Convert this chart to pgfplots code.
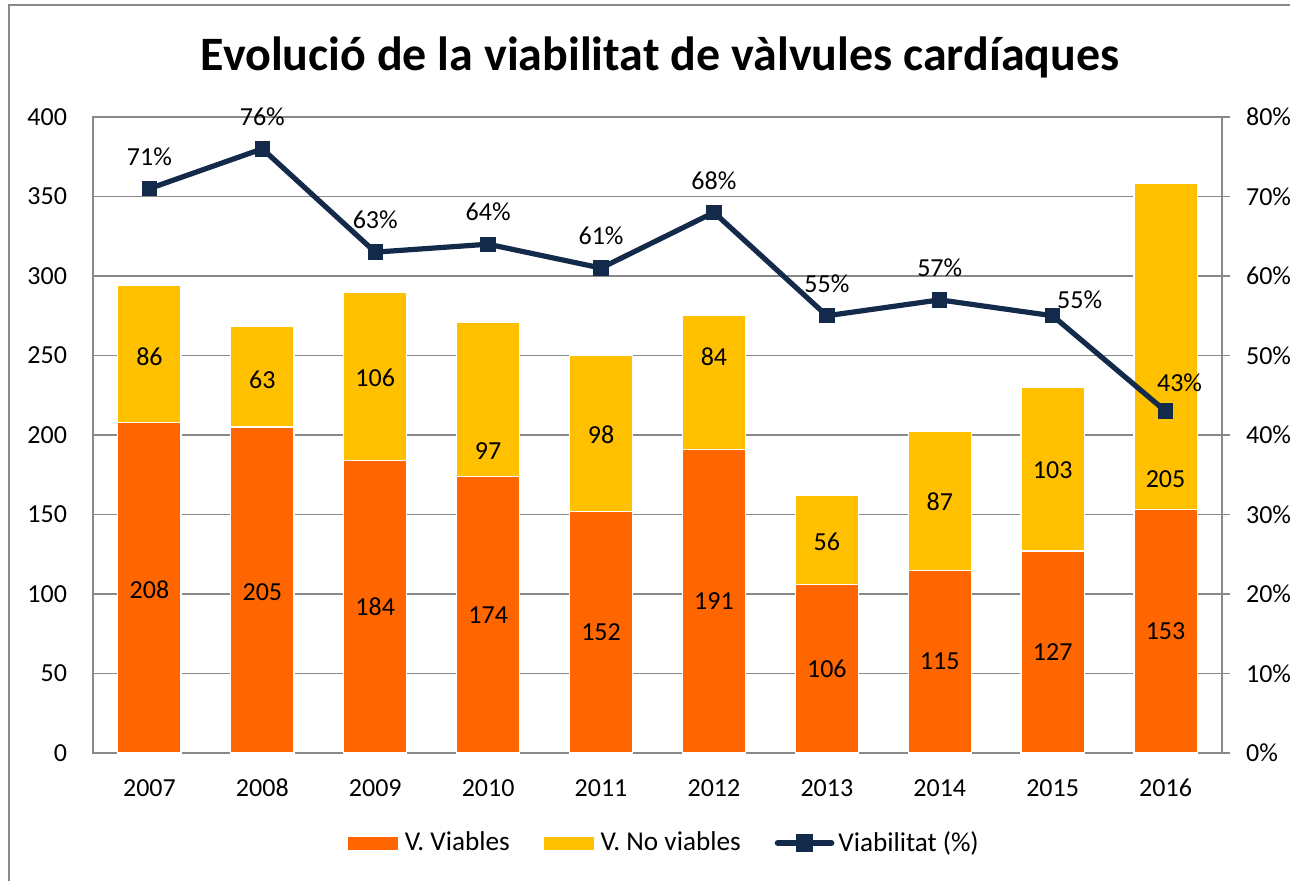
\documentclass[border=0pt]{standalone}
\usepackage{fontspec}
\setmainfont{Carlito}
\usepackage{pgfplots}
\usepackage{pgfplotstable}
\pgfplotsset{compat=1.18}

\definecolor{vorange}{HTML}{FF6600}
\definecolor{vyellow}{HTML}{FFC000}
\definecolor{vnavy}{HTML}{132A4B}
\definecolor{gridgray}{HTML}{898989}

% bars: viables / no viables per year (x = 0 -> 2007)
\pgfplotstableread{
x via novia
0 208 86
1 205 63
2 184 106
3 174 97
4 152 98
5 191 84
6 106 56
7 115 87
8 127 103
9 153 205
}\bardata

% value labels inside the bars (y = where the label sits)
\pgfplotstableread{
x y v
0 102.5 208
1 101 205
2 92 184
3 87 174
4 76 152
5 95.5 191
6 53 106
7 57.5 115
8 63.5 127
9 76.5 153
0 249 86
1 235 63
2 236 106
3 190 97
4 200 98
5 249 84
6 133 56
7 158 87
8 178 103
9 172 205
}\barlabels

% viability (%) with label offsets in pt
\pgfplotstableread{
x pct dx dy
0 71 0 16
1 76 0 16
2 63 0 16
3 64 0 16
4 61 0 16
5 68 0 16
6 55 0 16
7 57 0 16
8 55 13.5 8
9 43 7 14
}\pctdata

\newcommand\lblfont{\fontsize{13}{16}\selectfont}
\newcommand\legfont{\fontsize{13.6}{16}\selectfont}

\pgfplotsset{
  /pgf/number format/assume math mode=true,
  every tick label/.append style={font=\lblfont},
  chartbox/.style={
    at={(46.5pt,63.5pt)}, anchor=south west,
    scale only axis, width=564.5pt, height=318pt,
    xmin=-0.5, xmax=9.5,
  },
  navylegend/.style={legend image code/.code={
      \draw[vnavy, line width=2.8pt, line cap=round] (0pt,0pt) -- (27pt,0pt);
      \fill[vnavy] (10.5pt,-3pt) rectangle (16.5pt,3pt);
  }},
}

\begin{document}
\begin{tikzpicture}
\useasboundingbox (0,0) rectangle (645pt,440pt);

%% outer chart frame (cropped on the right and bottom)
\draw[gridgray, line width=1pt] (4.5pt,-20pt) -- (4.5pt,437.5pt) -- (700pt,437.5pt);

\node[font=\fontsize{24}{29}\selectfont\bfseries] at (330pt,411.5pt)
  {Evolució de la viabilitat de vàlvules cardíaques};

%% stacked bars, left axis
\begin{axis}[
  chartbox,
  ybar stacked, bar width=0.56,
  ymin=0, ymax=400,
  ytick={0,50,...,400},
  xtick={0,...,9},
  xticklabels={2007,2008,2009,2010,2011,2012,2013,2014,2015,2016},
  major tick length=0pt,
  ytick pos=left, xtick pos=bottom,
  ymajorgrids,
  grid style={gridgray, line width=0.75pt},
  axis line style={gridgray, line width=0.75pt},
  yticklabel style={xshift=-9.5pt},
  xticklabel style={yshift=-11pt, text height=1.5ex, text depth=0pt},
]
  \addplot[fill=vorange, draw=white, line width=0.6pt] table[x=x, y=via] {\bardata};
  \addplot[fill=vyellow, draw=white, line width=0.6pt] table[x=x, y=novia] {\bardata};
\end{axis}

%% numbers inside the bars
\begin{axis}[
  chartbox, hide axis,
  ymin=0, ymax=400,
]
  \addplot[draw=none, mark=none, point meta=explicit,
    nodes near coords,
    every node near coord/.style={anchor=center, font=\lblfont},
  ] table[x=x, y=y, meta=v] {\barlabels};
\end{axis}

%% viability line, right axis + legend
\begin{axis}[
  chartbox,
  ymin=0, ymax=80,
  axis x line=none,
  axis y line*=right,
  ytick={0,10,...,80},
  yticklabel={\pgfmathprintnumber{\tick}\%},
  yticklabel style={xshift=4.5pt},
  tick align=outside,
  major tick length=4pt,
  tick style={gridgray, line width=0.75pt},
  axis line style={gridgray, line width=0.75pt},
  legend columns=3,
  legend style={
    draw=none, fill=none,
    at={(0.507,-0.1415)}, anchor=center,
    font=\legfont,
    /tikz/every even column/.append style={column sep=15pt},
  },
  legend cell align=left,
]
  \addlegendimage{legend image code/.code={\fill[vorange] (0pt,-3pt) rectangle (24.5pt,3pt); \path (26pt,0pt);}}
  \addlegendentry{V. Viables}
  \addlegendimage{legend image code/.code={\fill[vyellow] (0pt,-3pt) rectangle (24.5pt,3pt); \path (26pt,0pt);}}
  \addlegendentry{V. No viables}

  \addplot[
    vnavy, line width=2.6pt,
    mark=square*, mark size=3.6pt, mark options={solid, line width=0.5pt},
    navylegend,
    point meta=explicit,
    visualization depends on={\thisrow{dx} \as \dx},
    visualization depends on={\thisrow{dy} \as \dy},
    nodes near coords={\pgfmathprintnumber{\pgfplotspointmeta}\%},
    every node near coord/.style={anchor=center, text=black,
      font=\lblfont, xshift=\dx pt, yshift=\dy pt},
  ] table[x=x, y=pct, meta=pct] {\pctdata};
  \addlegendentry{Viabilitat (\%)}
\end{axis}
\end{tikzpicture}
\end{document}
